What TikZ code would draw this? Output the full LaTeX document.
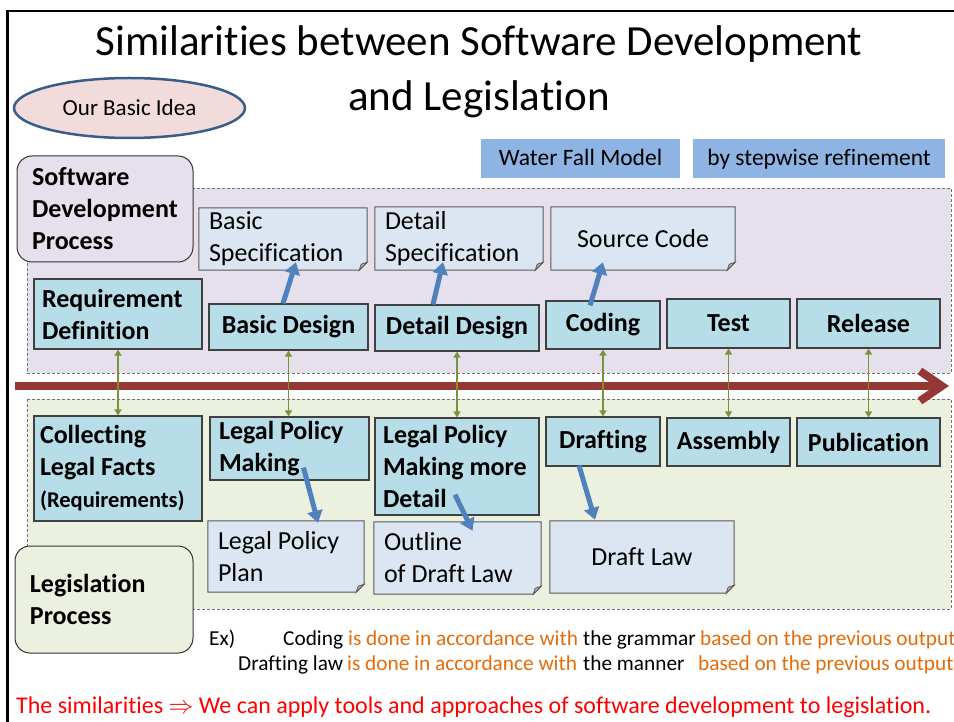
\documentclass[tikz,border=0pt]{standalone}
\usepackage{fontspec}
\setmainfont{Carlito}[Ligatures=NoCommon]
\usetikzlibrary{shapes.geometric,arrows.meta,backgrounds}
\definecolor{sdpfill}{HTML}{E5E0EC}
\definecolor{legfill}{HTML}{EBF1DE}
\definecolor{procfill}{HTML}{B7DEE8}
\definecolor{docfill}{HTML}{DCE6F2}
\definecolor{hdrblue}{HTML}{8DB4E2}
\definecolor{refblue}{HTML}{4F81BD}
\definecolor{linkgreen}{HTML}{77933C}
\definecolor{flowred}{HTML}{953735}
\definecolor{ideapink}{HTML}{F2DCDB}
\definecolor{ideaedge}{HTML}{385D8A}
\definecolor{exorange}{HTML}{E46C0A}

\begin{document}
\begin{tikzpicture}[x=1pt,y=-1pt,
    region/.style={draw=black!55,line width=0.9pt,dash pattern=on 3pt off 2pt},
    proc/.style={draw=black!75,line width=1.2pt,fill=procfill,inner sep=0pt,
        font=\fontsize{26}{32}\selectfont\bfseries},
    doc/.style={inner sep=0pt,font=\fontsize{26}{32}\selectfont},
    docshape/.style={draw=black!65,line width=1pt,fill=docfill},
    fold/.style={draw=black!65,line width=0.8pt,fill=black!30},
    phase/.style={draw=black!80,line width=1pt,rounded corners=15pt,inner sep=0pt,
        font=\fontsize{26}{32}\selectfont\bfseries,align=flush left},
    hdr/.style={fill=hdrblue,inner sep=0pt,text height=15pt,text depth=0pt,
        font=\fontsize{23.5}{28}\selectfont},
    extext/.style={anchor=base west,inner sep=0pt,font=\fontsize{21.3}{26}\selectfont},
    refine/.style={refblue,line width=5pt,-{Triangle[length=12pt,width=15pt]}},
    link/.style={linkgreen,line width=1.8pt,{Triangle[length=6pt,width=7pt]}-{Triangle[length=6pt,width=7pt]}},
    flow/.style={flowred,line width=8pt,-{Straight Barb[length=22pt,width=30pt]}}]
    \useasboundingbox (0,0) rectangle (954,722);

    % dashed process areas
    \begin{scope}[on background layer]
        \filldraw[region,fill=sdpfill] (27,188) rectangle (951,373);
        \filldraw[region,fill=legfill] (27,399) rectangle (951,609);
    \end{scope}

    \draw[line width=2.5pt] (7.5,722) -- (7.5,11) -- (954,11);

    \node[align=center,font=\fontsize{43}{51}\selectfont] (title) at (479,72)
        {Similarities between Software Development\\[4pt]and Legislation};
    \node[ellipse,draw=ideaedge,line width=2.5pt,fill=ideapink,minimum width=231pt,
        minimum height=60pt,inner sep=0pt,font=\fontsize{23}{28}\selectfont] (idea) at (129.5,108) {Our Basic Idea};
    \node[hdr,minimum width=199pt,minimum height=39pt] (wfm) at (580.5,158.5) {Water Fall Model};
    \node[hdr,minimum width=252pt,minimum height=39pt] (stepw) at (819,158.5) {by stepwise refinement};

    \node[phase,fill=sdpfill,minimum width=176pt,minimum height=106pt,text width=146pt] (sdp) at (105,209)
        {Software\\Development\\Process};
    \node[phase,fill=legfill,minimum width=178pt,minimum height=107pt,text width=148pt] (legis) at (104,599.5)
        {Legislation\\Process};

    % software development
    \node[proc,minimum width=168pt,minimum height=70pt,text width=152pt,align=flush left] (req) at (118,314) {Requirement\\Definition};
    \node[proc,minimum width=159pt,minimum height=46pt,text width=150pt,align=flush center] (bdes) at (288.5,327) {Basic Design};
    \node[proc,minimum width=164pt,minimum height=46pt,text width=156pt,align=flush center] (ddes) at (457,328) {Detail Design};
    \node[proc,minimum width=114pt,minimum height=48pt,text width=106pt,align=flush center,yshift=2pt] (cod) at (603,327) {Coding};
    \node[proc,minimum width=123pt,minimum height=49pt,text width=115pt,align=flush center,yshift=2pt] (tst) at (728.5,325.5) {Test};
    \node[proc,minimum width=143pt,minimum height=49pt,text width=135pt,align=flush center,yshift=2pt] (rel) at (868.5,325.5) {Release};

    \node[doc,minimum width=168pt,minimum height=62pt,text width=148pt,align=flush left] (bspec) at (283,239) {Basic\\Specification};
    \node[doc,minimum width=168pt,minimum height=63pt,text width=148pt,align=flush left] (dspec) at (459,238.5) {Detail\\Specification};
    \node[doc,minimum width=184pt,minimum height=63pt,text width=164pt,align=flush center] (src) at (643,238.5) {Source Code};

    % legislation
    \node[proc,minimum width=168pt,minimum height=105pt,text width=156pt,align=flush left] (coll) at (118,468.5)
        {Collecting\\Legal Facts\\{\fontsize{22.5}{30}\selectfont(Requirements)}};
    \node[proc,minimum width=159pt,minimum height=63pt,text width=141pt,align=flush left] (lpm) at (289.5,448.5) {Legal Policy\\Making};
    \node[proc,minimum width=164pt,minimum height=97pt,text width=148pt,align=flush left] (lpmd) at (457,466.5)
        {Legal Policy\\Making more\\Detail};
    \node[proc,minimum width=114pt,minimum height=49pt,text width=106pt,align=flush center] (draft) at (603,441.5) {Drafting};
    \node[proc,minimum width=123pt,minimum height=48pt,text width=119pt,align=flush center] (asm) at (728.5,442) {Assembly};
    \node[proc,minimum width=143pt,minimum height=48pt,text width=139pt,align=flush center] (pub) at (868.5,442) {Publication};

    \node[doc,minimum width=156pt,minimum height=71pt,text width=136pt,align=flush left] (lpp) at (286,556.5) {Legal Policy\\Plan};
    \node[doc,minimum width=167pt,minimum height=72pt,text width=147pt,align=flush left] (outl) at (457.5,558) {Outline\\of Draft Law};
    \node[doc,minimum width=184pt,minimum height=72pt,text width=164pt,align=flush center] (dlaw) at (642,557) {Draft Law};

    % folded-corner documents
    \begin{scope}[on background layer]
        \foreach \d in {bspec,dspec,src,lpp,outl,dlaw} {
            \filldraw[docshape] (\d.north west) -- (\d.north east) -- ([yshift=8pt]\d.south east)
                -- ([xshift=-8pt]\d.south east) -- (\d.south west) -- cycle;
            \filldraw[fold] ([yshift=8pt]\d.south east) -- ([xshift=-8pt]\d.south east)
                -- ([xshift=-6pt,yshift=6pt]\d.south east) -- cycle;
        }
    \end{scope}

    \coordinate (flowstart) at (15,386);
    \coordinate (flowend) at (949,386);
    \draw[flow] (flowstart) -- (flowend);

    \foreach \a/\b in {req/coll,bdes/lpm,ddes/lpmd,cod/draft,tst/asm,rel/pub} {
        \draw[link] (\a.south) -- (\a.south |- \b.north);
    }

    \draw[refine] ([xshift=-5.5pt]bdes.north) -- ([xshift=13pt,yshift=8pt]bspec.south);
    \draw[refine] ([xshift=-24pt]ddes.north) -- ([xshift=-16pt,yshift=8pt]dspec.south);
    \draw[refine] ([xshift=-13pt,yshift=-5pt]cod.north) -- ([xshift=-40pt,yshift=8pt]src.south);
    \draw[refine] ([xshift=14pt,yshift=13pt]lpm.south) -- ([xshift=32pt,yshift=-2pt]lpp.north);
    \draw[refine] ([xshift=-2pt,yshift=21pt]lpmd.south) -- ([xshift=15pt,yshift=-9pt]outl.north);
    \draw[refine] ([xshift=-24pt,yshift=1pt]draft.south) -- ([xshift=-47pt,yshift=1pt]dlaw.north);

    % example sentences
    \node[extext] (exlbl) at (209,645) {Ex)};
    \node[extext] (exa1) at (283,645) {Coding};
    \node[extext,text=exorange] (exa2) at (348,645) {is done in accordance with};
    \node[extext] (exa3) at (583,645) {the grammar};
    \node[extext,text=exorange] (exa4) at (700,645) {based on the previous output};
    \node[extext] (exb1) at (238,670) {Drafting law};
    \node[extext,text=exorange] (exb2) at (347,670) {is done in accordance with};
    \node[extext] (exb3) at (583,670) {the manner};
    \node[extext,text=exorange] (exb4) at (698,670) {based on the previous output};
    \node[anchor=base west,inner sep=0pt,text=red,font=\fontsize{24}{28}\selectfont] (concl) at (16,713)
        {The similarities $\Rightarrow$ We can apply tools and approaches of software development to legislation.};
\end{tikzpicture}
\end{document}
